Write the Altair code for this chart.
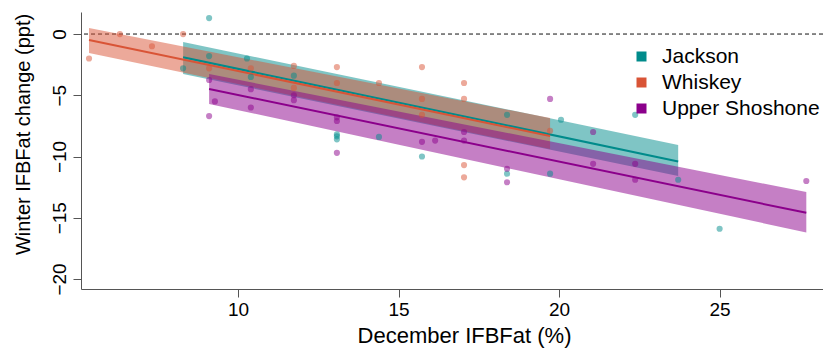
import altair as alt
import pandas as pd

FONT = "Liberation Sans"
sites = ["Jackson", "Whiskey", "Upper Shoshone"]
site_colors = ["#008B8B", "#D95436", "#8B008B"]

# observed points (December IFBFat %, winter change ppt)
jackson_x = [9.1, 9.1, 10.28, 10.4, 11.74, 13.08, 13.08, 13.08, 14.39, 15.73, 18.38, 18.38, 19.72, 20.06, 22.37, 23.71, 25.0, 8.29]
jackson_y = [1.3, -1.8, -2.0, -3.5, -3.4, -8.2, -8.6, -8.35, -8.4, -10.0, -6.6, -11.4, -11.4, -7.0, -6.6, -11.9, -15.9, -2.8]
whiskey_x = [5.36, 6.32, 7.32, 8.29, 9.1, 10.4, 11.74, 11.74, 13.08, 13.08, 14.39, 15.73, 15.73, 15.73, 17.04, 17.04, 17.04, 17.04, 19.72]
whiskey_y = [-2.0, 0.0, -1.0, 0.0, -2.8, -2.8, -2.6, -4.4, -2.7, -4.0, -4.0, -2.7, -5.3, -6.6, -4.0, -5.3, -10.7, -11.7, -7.9]
shoshone_x = [9.1, 9.28, 9.1, 10.4, 10.4, 11.74, 11.74, 13.08, 13.08, 13.08, 15.73, 16.14, 17.04, 17.04, 18.38, 18.38, 19.72, 21.06, 21.06, 22.37, 22.37, 27.7]
shoshone_y = [-3.75, -5.5, -6.7, -4.5, -6.0, -5.0, -5.4, -6.8, -7.1, -9.7, -8.8, -8.7, -8.0, -8.7, -11.0, -12.1, -5.3, -8.0, -10.6, -10.6, -11.9, -12.0]

# fitted lines and bands at their end points
fit_site = ["Jackson", "Jackson", "Whiskey", "Whiskey", "Upper Shoshone", "Upper Shoshone"]
fit_x = [8.29, 23.71, 5.36, 19.72, 9.1, 27.7]
fit_y = [-1.9, -10.4, -0.49, -8.33, -4.49, -14.6]
fit_lo = [-3.27, -11.6, -1.55, -9.39, -5.71, -16.2]
fit_hi = [-0.65, -9.06, 0.49, -6.86, -3.27, -12.9]

pts = pd.DataFrame({
    "site": ["Jackson"] * len(jackson_x) + ["Whiskey"] * len(whiskey_x) + ["Upper Shoshone"] * len(shoshone_x),
    "x": jackson_x + whiskey_x + shoshone_x,
    "y": jackson_y + whiskey_y + shoshone_y,
})
fit = pd.DataFrame({"site": fit_site, "x": fit_x, "y": fit_y, "lo": fit_lo, "hi": fit_hi})
zero = pd.DataFrame({"y": [0]})

xs = alt.Scale(domain=[5.11, 28.22], nice=False, zero=False)
ys = alt.Scale(domain=[-20.82, 1.80], nice=False, zero=False)
cscale = alt.Scale(domain=sites, range=site_colors)

xaxis = alt.Axis(values=[10, 15, 20, 25], title="December IFBFat (%)", labelPadding=3,
                 titleFontSize=22, titleX=383, titleY=46, titleBaseline="middle", titleAnchor="middle")
yaxis = alt.Axis(values=[-20, -15, -10, -5, 0], title="Winter IFBFat change (ppt)",
                 labelAngle=270, labelAlign="center", labelBaseline="bottom", labelPadding=4,
                 titleFontSize=20, titleAngle=270, titleX=-58, titleY=122,
                 titleBaseline="middle", titleAlign="center")

color_enc = alt.Color("site:N", scale=cscale, sort=sites, legend=alt.Legend(title=None))

rule = alt.Chart(zero).mark_rule(color="#111111", strokeDash=[4, 3], strokeWidth=1).encode(
    y=alt.Y("y:Q", scale=ys, axis=yaxis)
)

bands = alt.Chart(fit).mark_area(opacity=0.5).encode(
    x=alt.X("x:Q", scale=xs, axis=xaxis),
    y=alt.Y("lo:Q", scale=ys, axis=yaxis, stack=None),
    y2="hi:Q",
    color=color_enc,
)

lines = alt.Chart(fit).mark_line(strokeWidth=2).encode(
    x=alt.X("x:Q", scale=xs, axis=xaxis),
    y=alt.Y("y:Q", scale=ys, axis=yaxis),
    color=color_enc,
)

points = alt.Chart(pts).mark_circle(size=38, opacity=0.5).encode(
    x=alt.X("x:Q", scale=xs, axis=xaxis),
    y=alt.Y("y:Q", scale=ys, axis=yaxis),
    color=color_enc,
)

chart = alt.layer(rule, bands, lines, points).properties(
    width=742, height=277,
    autosize=alt.AutoSizeParams(type="none"),
    padding={"left": 73, "top": 4, "right": 0, "bottom": 60},
).configure_view(stroke=None).configure_axis(
    grid=False, domainColor="#555555", tickColor="#555555", tickSize=8,
    labelFont=FONT, titleFont=FONT, labelFontSize=19, titleFontSize=20,
    labelColor="black", titleColor="black", titleFontWeight="normal",
).configure_legend(
    orient="none", legendX=550, legendY=34, symbolType="square",
    symbolSize=100, symbolOpacity=1, symbolStrokeWidth=0, labelFontSize=21,
    labelFont=FONT, labelOffset=10, rowPadding=4, labelColor="black", labelLimit=400,
)

chart.save("out.html", embed_options={"renderer": "svg", "actions": False})
